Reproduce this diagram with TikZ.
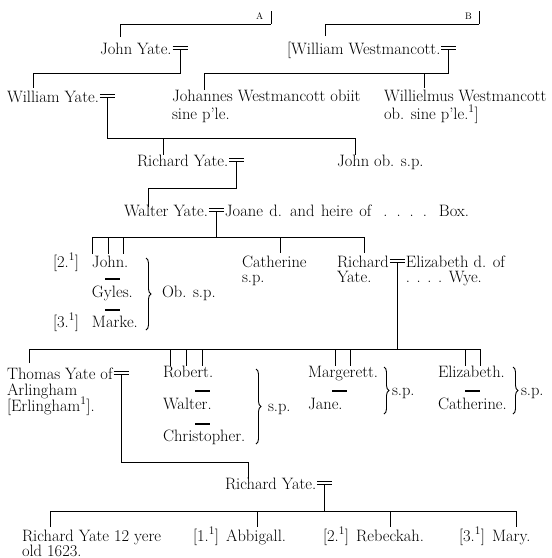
\documentclass[tikz,border=0pt]{standalone}
\usetikzlibrary{calc,decorations.pathreplacing}
\begin{document}
\begin{tikzpicture}[x=1pt,y=-1pt,
  t/.style={anchor=base west, inner sep=0pt, outer sep=0pt, font=\fontsize{16.5}{17}\selectfont},
  lbl/.style={anchor=base west, inner sep=0pt, outer sep=0pt, font=\fontsize{9.5}{10}\selectfont},
  ln/.style={line width=0.9pt},
  dsh/.style={line width=1.3pt},
  brc/.style={line width=0.9pt, decorate, decoration={brace, amplitude=5pt}}]
\newcommand\wedsign[2]{%
  \draw[ln] ($(#1.base east)+(1,-7.5)$) -- ++(15,0);
  \draw[ln] ($(#1.base east)+(1,-4.5)$) -- ++(15,0);
  \coordinate (#2) at ($(#1.base east)+(8.5,-4.5)$);}
\useasboundingbox (0,0) rectangle (552,558);

% top rails A and B
\node[lbl] (A) at (256,19) {A};
\node[lbl] (B) at (465,19) {B};
\coordinate (Ae) at (271,24);
\coordinate (Be) at (479,24);
\draw[ln] (120,37) -- (120,24) -- (Ae);
\draw[ln] (271,11) -- (Ae);
\draw[ln] (325,36) -- (325,24) -- (Be);
\draw[ln] (479,11) -- (Be);

% generation 1
\node[t] (jy) at (100,54) {John Yate.};
\wedsign{jy}{m1}
\node[t] (ww) at (287,54) {[William Westmancott.};
\wedsign{ww}{m2}
\draw[ln] (m1) |- (33,73) -- (33,88);
\draw[ln] (m2) |- (204,73) -- (204,90);
\draw[ln] (424,73) -- (424,88);

% generation 2
\node[t] (wy) at (7,102) {William Yate.};
\wedsign{wy}{m3}
\node[t] (jw1) at (172,101) {Johannes Westmancott obiit};
\node[t] (jw2) at (172,119) {sine p'le.};
\node[t] (wl1) at (384,101) {Willielmus Westmancott};
\node[t] (wl2) at (384,119) {ob. sine p'le.\textsuperscript{1}]};
\draw[ln] (m3) |- (355,138) -- (355,155);
\draw[ln] (163,138) -- (163,155);

% generation 3
\node[t] (ry) at (137,166) {Richard Yate.};
\wedsign{ry}{m4}
\node[t] (jo) at (337,166) {John ob. s.p.};
\draw[ln] (m4) |- (148,188) -- (148,207);

% generation 4
\node[t] (wa) at (124,216) {Walter Yate.};
\wedsign{wa}{m5}
\node[t] (jb) at ($(wa.base east)+(17,0)$) {Joane\hspace{1.5pt} d.\hspace{1.5pt} and\hspace{1.5pt} heire\hspace{1.5pt} of\hspace{12pt}.\hspace{9pt}.\hspace{9pt}.\hspace{9pt}.\hspace{12pt}Box.};
\draw[ln] (m5) -- (m5 |- 0,237);
\draw[ln] (92,254) -- (92,237) -- (364,237) -- (364,253);
\draw[ln] (108,237) -- (108,254);
\draw[ln] (123,237) -- (123,254);
\draw[ln] (280,237) -- (280,253);

% generation 5
\node[t] (n2) at (53,267) {[2.\textsuperscript{1}]};
\node[t] (jn) at (92,267) {John.};
\node[t] (gy) at (92,297) {Gyles.};
\node[t] (n3) at (53,327) {[3.\textsuperscript{1}]};
\node[t] (mk) at (92,327) {Marke.};
\draw[dsh] (105,279) -- (120,279);
\draw[dsh] (105,310) -- (120,310);
\draw[brc] (146,258) -- (146,330);
\node[t] (obsp) at (162,297) {Ob. s.p.};
\node[t] (ca1) at (242,267) {Catherine};
\node[t] (ca2) at (242,282) {s.p.};
\node[t] (ri1) at (337,267) {Richard};
\wedsign{ri1}{m6}
\node[t] (ri2) at (337,282) {Yate.};
\node[t] (el1) at ($(ri1.base east)+(17,0)$) {Elizabeth d. of};
\node[t] (el2) at (el1.base west |- 0,282) {. . . . Wye.};

% generation 6 rail
\draw[ln] (m6) -- (m6 |- 0,349);
\draw[ln] (29,363) -- (29,349) -- (480,349) -- (480,366);
\foreach \xx in {170,186,202,335,350,465} {\draw[ln] (\xx,349) -- (\xx,366);}

\node[t] (th1) at (7,379) {Thomas Yate of};
\wedsign{th1}{m7}
\node[t] (th2) at (7,395) {Arlingham};
\node[t] (th3) at (7,411) {[Erlingham\textsuperscript{1}].};

\node[t] (rb) at (163,377) {Robert.};
\node[t] (wt) at (163,409) {Walter.};
\node[t] (ch) at (163,441) {Christopher.};
\draw[dsh] (195,391) -- (210,391);
\draw[dsh] (195,424) -- (210,424);
\draw[brc] (256,369) -- (256,444);
\node[t] (sp1) at (268,411) {s.p.};

\node[t] (mg) at (308,377) {Margerett.};
\node[t] (jn2) at (308,409) {Jane.};
\draw[dsh] (332,391) -- (347,391);
\draw[brc] (384,367) -- (384,414);
\node[t] (sp2) at (392,395) {s.p.};

\node[t] (eb) at (438,377) {Elizabeth.};
\node[t] (ct) at (438,409) {Catherine.};
\draw[dsh] (465,391) -- (480,391);
\draw[brc] (513,367) -- (513,414);
\node[t] (sp3) at (521,395) {s.p.};

% generation 7
\draw[ln] (m7) |- (248,462) -- (248,478);
\node[t] (ry2) at (225,489) {Richard Yate.};
\wedsign{ry2}{m8}
\draw[ln] (m8) -- (m8 |- 0,511);
\draw[ln] (50,527) -- (50,511) -- (516,511) -- (516,527);
\draw[ln] (257,511) -- (257,527);
\draw[ln] (390,511) -- (390,527);

% generation 8
\node[t] (c1a) at (22,541) {Richard Yate 12 yere};
\node[t] (c1b) at (22,556) {old 1623.};
\node[t] (c2) at (193,541) {[1.\textsuperscript{1}]\hspace{7pt}Abbigall.};
\node[t] (c3) at (323,541) {[2.\textsuperscript{1}]\hspace{7pt}Rebeckah.};
\node[t] (c4) at (459,541) {[3.\textsuperscript{1}]\hspace{7pt}Mary.};
\end{tikzpicture}
\end{document}
